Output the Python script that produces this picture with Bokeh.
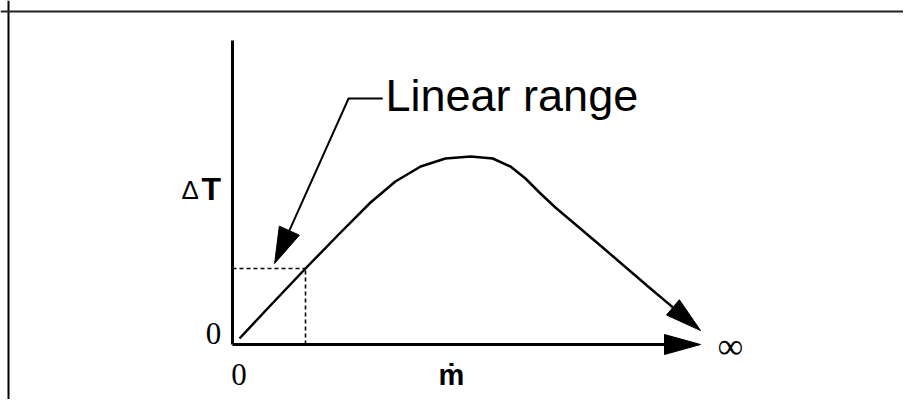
import numpy as np
from bokeh.plotting import figure
from bokeh.models import Range1d, Span
from bokeh.core.properties import value
from bokeh.embed import file_html
from bokeh.resources import INLINE

# ---- data (arbitrary units: mass flow m-dot vs temperature difference dT) ----
curve_m = [0.15, 0.81, 1.56, 2.31, 2.95, 3.48, 4.02, 4.55, 5.09, 5.56, 5.94, 6.26, 6.58, 6.90, 7.86, 8.93, 10.0]
curve_dT = [0.30, 1.95, 3.80, 5.60, 7.10, 8.15, 8.90, 9.30, 9.40, 9.30, 8.90, 8.30, 7.55, 6.85, 4.95, 2.80, 0.70]
linear_limit_m = 1.56
linear_limit_dT = 3.80
axis_x_end = 10.0
axis_y_end = 15.2
leader_x = [3.21, 2.48, 0.90]
leader_y = [12.3, 12.3, 4.05]
label_text = "Linear range"
x_label = "m\u0307"
y_label_delta = "\u0394"
y_label_T = "T"
zero_label = "0"
inf_label = "\u221e"

# ---- layout ----
W, H = 903, 399
XS, YS = 46.8, 20.0            # pixels per data unit
OX, OY = 232, 344              # origin inside the canvas (px)

x_range = Range1d(-OX / XS, (W - OX) / XS)
y_range = Range1d(-(H - OY) / YS, OY / YS)

p = figure(width=W, height=H, output_backend="svg", toolbar_location=None,
           x_range=x_range, y_range=y_range, min_border=0,
           x_axis_location=None, y_axis_location=None)
p.grid.visible = False
p.outline_line_color = None
p.background_fill_color = "white"
p.border_fill_color = "white"

# frame lines (top and left of the original picture box)
p.add_layout(Span(location=(8 - OX) / XS, dimension="height", line_color="black", line_width=2))
p.add_layout(Span(location=(OY - 11) / YS, dimension="width", line_color="#222222", line_width=2))


def head(tip, frm, length, half):
    """Arrow head polygon (data units) from tip and direction point, sized in px."""
    tx, ty = tip[0] * XS, tip[1] * YS
    fx, fy = frm[0] * XS, frm[1] * YS
    d = np.hypot(tx - fx, ty - fy)
    ux, uy = (tx - fx) / d, (ty - fy) / d
    bx, by = tx - length * ux, ty - length * uy
    nx, ny = -uy, ux
    xs = [tx, bx + half * nx, bx - half * nx]
    ys = [ty, by + half * ny, by - half * ny]
    return [v / XS for v in xs], [v / YS for v in ys], (bx / XS, by / YS)


# axes
p.line([0, 0], [0, axis_y_end], line_color="black", line_width=3)
hx, hy, base = head((axis_x_end, 0), (0, 0), 36, 10)
p.line([0, base[0] + 0.1], [0, 0], line_color="black", line_width=3)
p.patch(hx, hy, fill_color="black", line_color="black", line_width=1)

# dashed linear-range box
p.line([0, linear_limit_m], [linear_limit_dT, linear_limit_dT], line_color="black",
       line_width=1.6, line_dash="4 3")
p.line([linear_limit_m, linear_limit_m], [0, linear_limit_dT], line_color="black",
       line_width=1.6, line_dash="4 3")

# response curve with arrow at the end
hx, hy, base = head((curve_m[-1], curve_dT[-1]), (curve_m[-2], curve_dT[-2]), 36, 10)
cm = curve_m[:-1] + [base[0]]
cd = curve_dT[:-1] + [base[1]]
p.line(cm, cd, line_color="black", line_width=2.5, line_join="round")
p.patch(hx, hy, fill_color="black", line_color="black", line_width=1)

# leader arrow for "Linear range"
hx, hy, base = head((leader_x[-1], leader_y[-1]), (leader_x[-2], leader_y[-2]), 36, 11)
p.line(leader_x[:-1] + [base[0]], leader_y[:-1] + [base[1]], line_color="black", line_width=2)
p.patch(hx, hy, fill_color="black", line_color="black", line_width=1)


# texts: (x px, baseline px) in picture coordinates; small upward correction per font size
def label(txt, xpx, base_px, size, font, align="left", style="normal"):
    ypx = base_px - 0.28 * size
    p.text(x=[(xpx - OX) / XS], y=[(OY - ypx) / YS], text=[txt],
           text_font=value(font), text_font_size=f"{size}px", text_font_style=style,
           text_align=align, text_baseline="alphabetic", text_color="black")


label(label_text, 385, 108, 45, "Liberation Sans")
label(y_label_delta, 181, 197, 26, "Liberation Sans")
label(y_label_T, 201, 197, 32, "Liberation Sans", style="bold")
label(zero_label, 213, 342, 31, "Liberation Serif", align="center")
label(zero_label, 238.5, 383, 31, "Liberation Serif", align="center")
label(inf_label, 717, 356, 36, "Liberation Serif")
label(x_label, 451, 383, 29, "Liberation Sans", align="center", style="bold")

open("out.html", "w").write(file_html(p, INLINE))
